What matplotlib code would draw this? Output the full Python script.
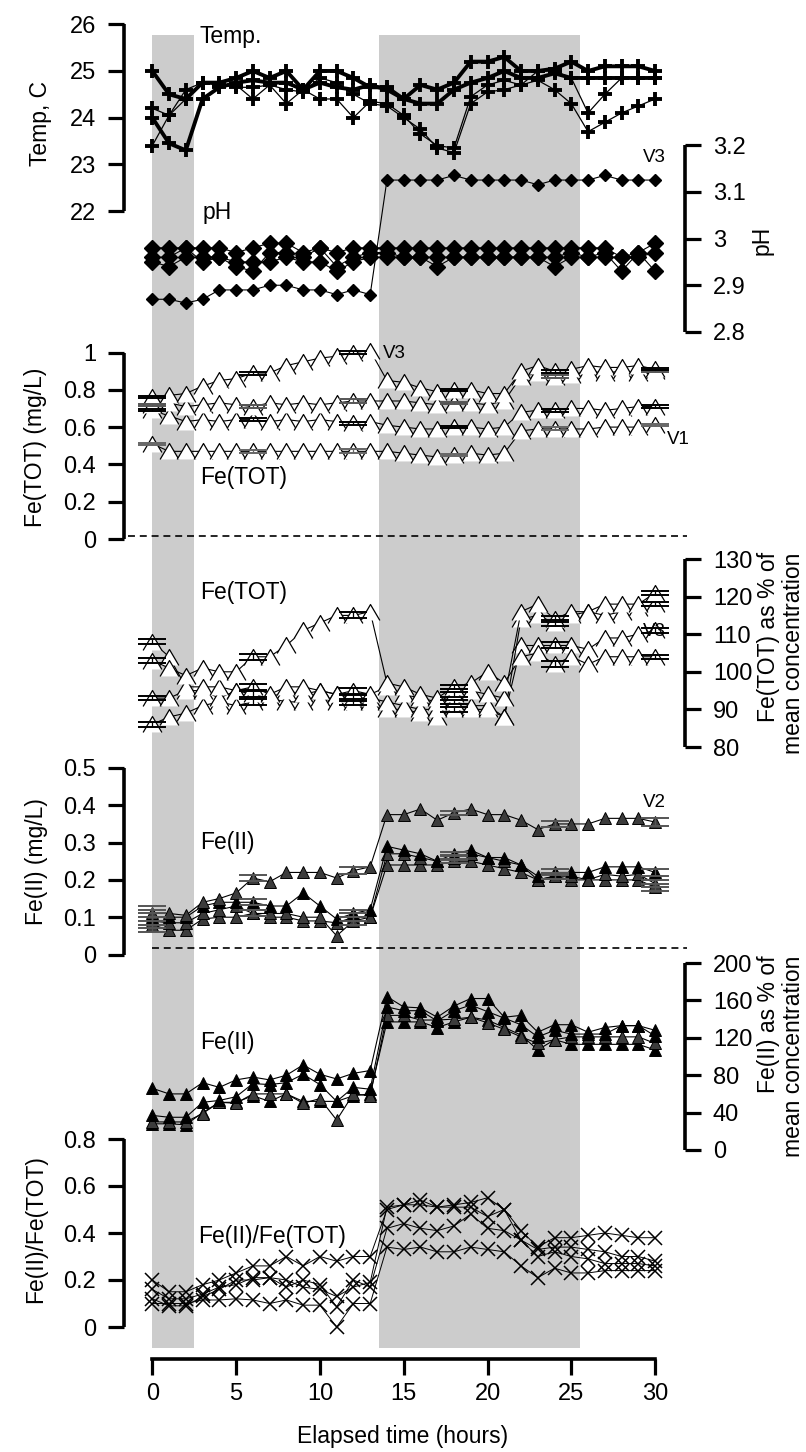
import matplotlib
matplotlib.use('Agg')
import matplotlib.pyplot as plt
import numpy as np
from matplotlib.patches import Rectangle

plt.rcParams['font.family'] = ['Liberation Sans', 'DejaVu Sans']
plt.rcParams['lines.scale_dashes'] = False

# ---------------- data ----------------
hours = list(range(31))
err_hours = [0, 6, 12, 18, 24, 30]
shade_spans = [(0, 2.5), (13.5, 25.5)]

temp_thick1 = [25.0, 24.5, 24.4, 24.75, 24.75, 24.85, 25.0, 24.85, 25.0, 24.6, 25.0, 25.0, 24.85, 24.65, 24.65,
               24.4, 24.3, 24.3, 24.6, 24.75, 24.85, 25.0, 24.85, 24.85, 24.95, 24.85, 24.85, 24.85, 24.85, 24.85, 24.85]
temp_thick2 = [24.0, 23.45, 23.3, 24.4, 24.65, 24.75, 24.8, 24.75, 24.75, 24.6, 24.75, 24.65, 24.6, 24.7, 24.6,
               24.4, 24.7, 24.6, 24.75, 25.2, 25.2, 25.3, 25.0, 25.0, 25.05, 25.2, 25.0, 25.1, 25.1, 25.1, 25.0]
temp_thin1 = [24.2, 24.05, 24.6, 24.75, 24.7, 24.7, 24.4, 24.7, 24.3, 24.6, 24.4, 24.4, 24.0, 24.35, 24.3,
              24.05, 23.65, 23.4, 23.35, 24.45, 24.7, 24.8, 24.7, 25.0, 25.0, 24.85, 24.1, 24.5, 24.85, 24.85, 24.85]
temp_thin2 = [23.4, 24.05, 24.4, 24.75, 24.7, 24.65, 24.65, 24.7, 24.6, 24.55, 24.85, 24.75, 24.5, 24.3, 24.25,
              24.0, 23.75, 23.35, 23.25, 24.3, 24.55, 24.6, 24.7, 24.8, 24.6, 24.3, 23.7, 23.9, 24.1, 24.25, 24.4]

ph_v3 = [2.87, 2.87, 2.862, 2.87, 2.89, 2.89, 2.89, 2.90, 2.90, 2.89, 2.89, 2.88, 2.89, 2.88, 3.125,
         3.125, 3.125, 3.125, 3.135, 3.125, 3.125, 3.125, 3.125, 3.115, 3.125, 3.125, 3.125, 3.135, 3.125, 3.125, 3.125]
ph_a = [2.98, 2.98, 2.98, 2.98, 2.98, 2.97, 2.98, 2.99, 2.99, 2.97, 2.98, 2.97, 2.98, 2.98, 2.98,
        2.98, 2.98, 2.98, 2.98, 2.98, 2.98, 2.98, 2.98, 2.98, 2.98, 2.98, 2.98, 2.98, 2.96, 2.97, 2.99]
ph_b = [2.96, 2.96, 2.98, 2.95, 2.96, 2.94, 2.93, 2.97, 2.97, 2.96, 2.98, 2.94, 2.96, 2.97, 2.97,
        2.96, 2.96, 2.94, 2.96, 2.96, 2.96, 2.96, 2.96, 2.96, 2.96, 2.97, 2.96, 2.97, 2.93, 2.97, 2.93]
ph_c = [2.95, 2.94, 2.96, 2.96, 2.96, 2.95, 2.95, 2.95, 2.96, 2.95, 2.95, 2.93, 2.95, 2.96, 2.96,
        2.96, 2.96, 2.96, 2.96, 2.96, 2.96, 2.96, 2.96, 2.96, 2.94, 2.96, 2.96, 2.96, 2.96, 2.96, 2.97]

fetot_v3 = [0.76, 0.77, 0.78, 0.82, 0.85, 0.86, 0.89, 0.89, 0.93, 0.95, 0.97, 0.98, 1.00, 1.01, 0.85,
            0.84, 0.81, 0.79, 0.80, 0.80, 0.78, 0.78, 0.90, 0.93, 0.90, 0.91, 0.93, 0.92, 0.92, 0.93, 0.91]
fetot_s3 = [0.72, 0.73, 0.71, 0.72, 0.73, 0.72, 0.71, 0.73, 0.72, 0.73, 0.72, 0.73, 0.74, 0.74, 0.74,
            0.74, 0.73, 0.72, 0.73, 0.73, 0.72, 0.74, 0.87, 0.89, 0.87, 0.88, 0.90, 0.89, 0.90, 0.89, 0.90]
fetot_s2 = [0.69, 0.66, 0.63, 0.64, 0.63, 0.64, 0.64, 0.63, 0.64, 0.63, 0.64, 0.63, 0.62, 0.63, 0.61,
            0.60, 0.59, 0.59, 0.60, 0.60, 0.59, 0.60, 0.68, 0.69, 0.69, 0.70, 0.70, 0.69, 0.70, 0.71, 0.71]
fetot_v1 = [0.51, 0.47, 0.47, 0.47, 0.47, 0.47, 0.47, 0.47, 0.47, 0.47, 0.47, 0.47, 0.47, 0.47, 0.47,
            0.46, 0.45, 0.44, 0.45, 0.46, 0.45, 0.46, 0.58, 0.59, 0.59, 0.59, 0.59, 0.60, 0.60, 0.60, 0.61]
fetot_err = [0.006, 0.008, 0.01, 0.006, 0.008, 0.006]

pct_a = [103, 101, 99, 101, 100, 100, 104, 104, 107, 111, 113, 115, 115, 116, 97,
         96, 94, 93, 96, 97, 100, 97, 104, 105, 102, 104, 102, 104, 104, 104, 104]
pct_b = [108, 104, 96, 96, 96, 95, 96, 94, 96, 96, 95, 94, 95, 94, 96,
         94, 93, 92, 94, 95, 94, 93, 116, 118, 114, 116, 116, 118, 118, 118, 121]
pct_c = [93, 93, 95, 95, 93, 95, 94, 93, 95, 94, 95, 94, 93, 93, 92,
         91, 90, 90, 92, 91, 91, 88, 114, 115, 113, 115, 116, 115, 116, 117, 118]
pct_d = [86, 88, 89, 91, 92, 91, 92, 93, 92, 92, 93, 92, 92, 92, 90,
         90, 89, 88, 90, 90, 90, 88, 107, 107, 107, 107, 106, 109, 109, 110, 111]
pct_err = [0.6, 0.8, 0.8, 0.6, 0.8, 0.6]

fe2_v2 = [0.11, 0.11, 0.105, 0.14, 0.15, 0.165, 0.205, 0.195, 0.22, 0.22, 0.22, 0.205, 0.225, 0.235, 0.375,
          0.375, 0.39, 0.36, 0.38, 0.39, 0.375, 0.375, 0.36, 0.335, 0.35, 0.35, 0.35, 0.365, 0.365, 0.365, 0.355]
fe2_b = [0.10, 0.10, 0.10, 0.13, 0.14, 0.14, 0.14, 0.13, 0.13, 0.165, 0.13, 0.095, 0.11, 0.12, 0.29,
         0.28, 0.27, 0.25, 0.27, 0.28, 0.26, 0.26, 0.24, 0.21, 0.22, 0.22, 0.22, 0.235, 0.235, 0.235, 0.22]
fe2_c = [0.09, 0.085, 0.085, 0.11, 0.12, 0.13, 0.11, 0.11, 0.11, 0.10, 0.10, 0.05, 0.09, 0.10, 0.27,
         0.27, 0.26, 0.25, 0.26, 0.27, 0.26, 0.25, 0.24, 0.20, 0.21, 0.21, 0.20, 0.215, 0.21, 0.215, 0.19]
fe2_d = [0.08, 0.065, 0.065, 0.095, 0.10, 0.10, 0.11, 0.10, 0.10, 0.09, 0.09, 0.085, 0.10, 0.10, 0.24,
         0.24, 0.24, 0.24, 0.25, 0.25, 0.24, 0.23, 0.22, 0.20, 0.21, 0.20, 0.20, 0.20, 0.20, 0.20, 0.18]
fe2_err = [0.02, 0.008, 0.01, 0.006, 0.008, 0.01]

fe2p_a = [66, 60, 60, 72, 67, 75, 78, 75, 80, 91, 81, 76, 82, 85, 164,
          153, 152, 142, 154, 162, 162, 142, 144, 126, 134, 134, 126, 131, 133, 133, 128]
fe2p_b = [37, 35, 35, 51, 53, 57, 71, 70, 72, 81, 70, 52, 67, 65, 153,
          149, 149, 138, 149, 155, 148, 141, 134, 121, 128, 124, 124, 124, 133, 133, 122]
fe2p_c = [30, 30, 30, 39, 51, 50, 60, 60, 60, 50, 55, 32, 60, 58, 144,
          144, 139, 139, 140, 142, 136, 129, 121, 114, 118, 121, 121, 121, 121, 121, 114]
fe2p_d = [28, 28, 27, 40, 51, 51, 58, 52, 60, 52, 52, 52, 58, 60, 137,
          137, 137, 131, 137, 142, 139, 131, 123, 107, 118, 113, 113, 113, 113, 113, 107]

ratio_1 = [0.20, 0.15, 0.15, 0.18, 0.20, 0.23, 0.26, 0.26, 0.30, 0.26, 0.30, 0.28, 0.30, 0.30, 0.50,
           0.52, 0.54, 0.51, 0.52, 0.53, 0.55, 0.50, 0.41, 0.34, 0.38, 0.38, 0.39, 0.40, 0.39, 0.38, 0.38]
ratio_2 = [0.16, 0.12, 0.12, 0.14, 0.17, 0.18, 0.21, 0.21, 0.20, 0.17, 0.16, 0.13, 0.17, 0.19, 0.51,
           0.52, 0.52, 0.51, 0.51, 0.51, 0.47, 0.50, 0.37, 0.33, 0.34, 0.34, 0.33, 0.32, 0.30, 0.30, 0.28]
ratio_3 = [0.12, 0.09, 0.09, 0.13, 0.16, 0.20, 0.20, 0.21, 0.17, 0.20, 0.18, 0.086, 0.20, 0.17, 0.42,
           0.44, 0.42, 0.41, 0.43, 0.48, 0.42, 0.41, 0.37, 0.30, 0.32, 0.30, 0.29, 0.27, 0.27, 0.27, 0.26]
ratio_4 = [0.10, 0.10, 0.10, 0.115, 0.115, 0.12, 0.115, 0.10, 0.115, 0.093, 0.093, 0.0, 0.10, 0.10, 0.34,
           0.33, 0.34, 0.32, 0.32, 0.34, 0.33, 0.32, 0.26, 0.21, 0.25, 0.23, 0.23, 0.24, 0.24, 0.24, 0.24]

x_ticks = [0, 5, 10, 15, 20, 25, 30]

# ---------------- layout ----------------
W, H, DPI = 806, 1452, 100
fig = plt.figure(figsize=(W / DPI, H / DPI), dpi=DPI)
X0PX, PXH = 152.3, 16.76
XL = (-2.0, 32.5)
LEFT_SPINE_PX, RIGHT_SPINE_PX = 124, 685
FS = 17
LAB = 16.5
VFS = 13.5
TICK_KW = dict(direction='out', length=11.5, width=2.3, labelsize=FS, pad=8.5, colors='black')


def t_of_px(px):
    return (px - X0PX) / PXH


def fx(px):
    return px / W


def fy(py):
    return 1 - py / H


bg = fig.add_axes([0, 0, 1, 1])
bg.set_xlim(t_of_px(0), t_of_px(W))
bg.set_ylim(H, 0)
bg.axis('off')
for a, b in shade_spans:
    bg.add_patch(Rectangle((a, 35), b - a, 1313, facecolor='#cccccc', edgecolor='none', zorder=0))
bg.plot([t_of_px(128), t_of_px(687)], [536, 536], color='k', lw=1.2, ls=(0, (5, 3.5)))
bg.plot([t_of_px(152), t_of_px(687)], [948, 948], color='k', lw=1.2, ls=(0, (5, 3.5)))


def panel(ylim, py_lo, py_hi, side, ticks, labels):
    left = X0PX + XL[0] * PXH
    width = (XL[1] - XL[0]) * PXH
    ax = fig.add_axes([fx(left), fy(py_lo), fx(width), (py_lo - py_hi) / H])
    ax.set_xlim(*XL)
    ax.set_ylim(*ylim)
    ax.patch.set_visible(False)
    for s in ax.spines.values():
        s.set_visible(False)
    ax.set_xticks([])
    sp = ax.spines[side]
    sp.set_visible(True)
    sp.set_linewidth(2.6)
    sp.set_capstyle('butt')
    if side == 'left':
        sp.set_position(('data', t_of_px(LEFT_SPINE_PX)))
        ax.yaxis.tick_left()
    else:
        sp.set_position(('data', t_of_px(RIGHT_SPINE_PX)))
        ax.yaxis.tick_right()
    ax.set_yticks(ticks)
    ax.set_yticklabels(labels)
    ax.tick_params(axis='y', **TICK_KW)
    return ax


def series(ax, y, marker, ms, lw, mfc='k', mec='k', mew=1.0, z=3):
    ax.plot(hours, y, color='k', lw=lw, marker=marker, ms=ms, mfc=mfc, mec=mec, mew=mew,
            clip_on=False, zorder=z)


def errs(ax, y, e, color='k'):
    ys = [y[h] for h in err_hours]
    ax.errorbar(err_hours, ys, yerr=e, fmt='none', ecolor=color, elinewidth=0.9,
                capsize=10, capthick=1.4, clip_on=False, zorder=6)


# Temperature
ax_t = panel((22, 26), 211, 24.3, 'left', [22, 23, 24, 25, 26], ['22', '23', '24', '25', '26'])
for y in (temp_thin1, temp_thin2):
    series(ax_t, y, '+', 10.5, 0.9, mew=2.8)
for y in (temp_thick1, temp_thick2):
    series(ax_t, y, '+', 10.5, 2.8, mew=2.8)

# pH
ax_p = panel((2.8, 3.2), 332, 145, 'right', [2.8, 2.9, 3.0, 3.1, 3.2], ['2.8', '2.9', '3', '3.1', '3.2'])
for y in (ph_a, ph_b, ph_c):
    series(ax_p, y, 'D', 8.2, 0.8)
series(ax_p, ph_v3, 'D', 6.0, 0.8)

# Fe(TOT): white-filled triangle whose two sloped sides are stroked (no base line)
tri_open = [(-1, -0.85), (0, 0.85), (1, -0.85)]
TRI_MS = 13.5
ax_f = panel((0, 1), 539, 352.5, 'left', [0, 0.2, 0.4, 0.6, 0.8, 1.0], ['0', '0.2', '0.4', '0.6', '0.8', '1'])
for y, c in ((fetot_v1, '#666666'), (fetot_s2, 'k'), (fetot_s3, '#555555'), (fetot_v3, 'k')):
    series(ax_f, y, tri_open, TRI_MS, 0.8, mfc='white', mec='k', mew=0.9)
    errs(ax_f, y, fetot_err, c)

# Fe(TOT) %
ax_fp = panel((80, 130), 747, 559, 'right', [80, 90, 100, 110, 120, 130],
              ['80', '90', '100', '110', '120', '130'])
for y in (pct_d, pct_c, pct_b, pct_a):
    series(ax_fp, y, tri_open, TRI_MS, 0.8, mfc='white', mec='k', mew=0.9)
    errs(ax_fp, y, pct_err, 'k')

# Fe(II) mg/L
ax_2 = panel((0, 0.5), 954.5, 768, 'left', [0, 0.1, 0.2, 0.3, 0.4, 0.5], ['0', '0.1', '0.2', '0.3', '0.4', '0.5'])
for y, fc in ((fe2_d, '#3c3c3c'), (fe2_c, '#3c3c3c'), (fe2_b, 'black'), (fe2_v2, '#3c3c3c')):
    series(ax_2, y, '^', 8.5, 0.8, mfc=fc, mec='k', mew=0.7)
    errs(ax_2, y, fe2_err, '#555555')

# Fe(II) %
ax_2p = panel((0, 200), 1150, 963, 'right', [0, 40, 80, 120, 160, 200],
              ['0', '40', '80', '120', '160', '200'])
for y, fc in ((fe2p_d, 'black'), (fe2p_c, '#3c3c3c'), (fe2p_b, 'black'), (fe2p_a, 'black')):
    series(ax_2p, y, '^', 8.2, 0.8, mfc=fc, mec='k', mew=0.7)

# Fe(II)/Fe(TOT)
ax_r = panel((0, 0.8), 1327, 1139, 'left', [0, 0.2, 0.4, 0.6, 0.8], ['0', '0.2', '0.4', '0.6', '0.8'])
for y in (ratio_1, ratio_2, ratio_3, ratio_4):
    series(ax_r, y, 'x', 10, 0.7, mew=1.1)

# x axis
left = X0PX + XL[0] * PXH
width = (XL[1] - XL[0]) * PXH
ax_x = fig.add_axes([fx(left), fy(1359), fx(width), 0.0005])
ax_x.set_xlim(*XL)
ax_x.patch.set_visible(False)
for s in ax_x.spines.values():
    s.set_visible(False)
ax_x.spines['bottom'].set_visible(True)
ax_x.spines['bottom'].set_linewidth(2.6)
ax_x.spines['bottom'].set_bounds(0, 30)
ax_x.set_yticks([])
ax_x.set_xticks(x_ticks)
ax_x.set_xticklabels([str(v) for v in x_ticks])
ax_x.tick_params(axis='x', direction='out', length=11.5, width=2.3, labelsize=FS, pad=6)


# ---------------- text ----------------
def txt(x, y, s, size=LAB, **kw):
    fig.text(fx(x), fy(y), s, fontsize=size, color='black', **kw)


txt(200, 36, 'Temp.', ha='left', va='center')
txt(203, 212, 'pH', ha='left', va='center')
txt(643, 158, 'V3', size=VFS, ha='left', va='center')
txt(200, 477, 'Fe(TOT)', ha='left', va='center')
txt(383, 353, 'V3', size=VFS, ha='left', va='center')
txt(667, 440, 'V1', size=VFS, ha='left', va='center')
txt(200, 593, 'Fe(TOT)', ha='left', va='center')
txt(643, 632, 'V3', size=VFS, ha='left', va='center')
txt(200, 843, 'Fe(II)', ha='left', va='center')
txt(643, 803, 'V2', size=VFS, ha='left', va='center')
txt(200, 1042, 'Fe(II)', ha='left', va='center')
txt(198, 1237, 'Fe(II)/Fe(TOT)', ha='left', va='center')

txt(41, 123, 'Temp, C', rotation=90, ha='center', va='center')
txt(36, 447, 'Fe(TOT) (mg/L)', rotation=90, ha='center', va='center')
txt(36, 862, 'Fe(II) (mg/L)', rotation=90, ha='center', va='center')
txt(36, 1229, 'Fe(II)/Fe(TOT)', rotation=90, ha='center', va='center')
txt(762, 240, 'pH', rotation=90, ha='center', va='center')
txt(781, 653, 'Fe(TOT) as % of\nmean concentration', rotation=90, ha='center', va='center',
    multialignment='right', linespacing=1.1)
txt(781, 1056, 'Fe(II) as % of\nmean concentration', rotation=90, ha='center', va='center',
    multialignment='right', linespacing=1.1)
txt(403, 1437, 'Elapsed time (hours)', ha='center', va='center')

fig.savefig('out.png', dpi=DPI)
